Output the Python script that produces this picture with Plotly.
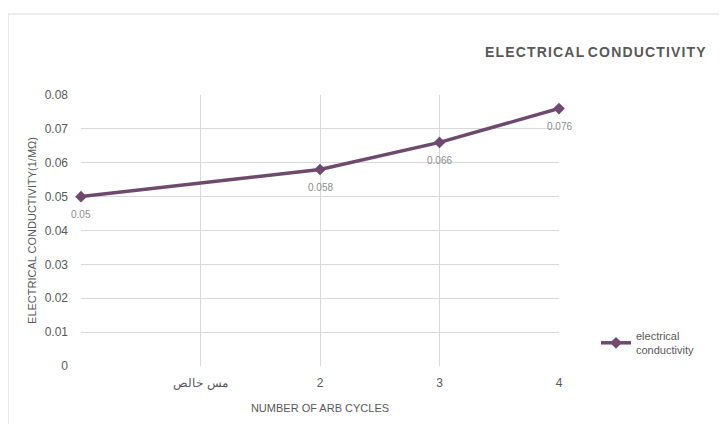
import plotly.graph_objects as go

x_vals = [0, 2, 3, 4]
conductivity = [0.05, 0.058, 0.066, 0.076]
point_labels = ["0.05", "0.058", "0.066", "0.076"]
tick_vals = [0, 1, 2, 3, 4]
tick_text = ["", "مس خالص", "2", "3", "4"]
y_ticks = [0, 0.01, 0.02, 0.03, 0.04, 0.05, 0.06, 0.07, 0.08]
y_tick_text = ["0", "0.01", "0.02", "0.03", "0.04", "0.05", "0.06", "0.07", "0.08"]

FONT = "Liberation Sans Narrow, Liberation Sans, Arial"
GREY = "#595959"
LINE = "#6e4a6f"

# page offset (body margin) compensation
OX, OY = 8, 8
PL, PR, PT, PB = 81, 559, 95, 366  # target plot area in window pixels
PW, PH = PR - PL, PB - PT

fig = go.Figure()
fig.add_trace(go.Scatter(
    x=x_vals, y=conductivity, mode="lines+markers",
    name="electrical<br>conductivity",
    line=dict(color=LINE, width=3.5),
    marker=dict(symbol="diamond", size=9, color=LINE),
    cliponaxis=False,
))

annotations = [dict(x=xv, y=yv, text=t, showarrow=False, yshift=-18,
                    xref="x", yref="y",
                    font=dict(family=FONT, size=10, color="#8c8c8c"))
               for xv, yv, t in zip(x_vals, conductivity, point_labels)]

title_txt = "\u200a".join(list("ELECTRICAL")) + " " + "\u200a".join(list("CONDUCTIVITY"))
annotations.append(dict(text="<b>" + title_txt + "</b>",
                        xref="paper", yref="paper", x=(708 - PL) / PW, y=(PB - 52) / PH,
                        xanchor="right", yanchor="middle", showarrow=False,
                        font=dict(family=FONT, size=14, color=GREY)))

fig.update_layout(
    width=727, height=424,
    margin=dict(l=PL - OX, r=727 + OX - PR, t=PT - OY, b=424 + OY - PB),
    paper_bgcolor="white", plot_bgcolor="white",
    font=dict(family=FONT, color=GREY, size=11),
    showlegend=True,
    legend=dict(x=(596 - PL) / PW, y=(PB - 364) / PH, xanchor="left", yanchor="bottom",
                font=dict(family=FONT, size=11, color=GREY),
                bgcolor="rgba(0,0,0,0)", itemwidth=30, tracegroupgap=0),
    xaxis=dict(range=[0, 4], tickvals=tick_vals, ticktext=tick_text,
               showgrid=True, gridcolor="#d9d9d9", gridwidth=1,
               zeroline=False, showline=False, ticks="",
               ticklabelstandoff=8,
               tickfont=dict(family=FONT, size=12, color=GREY),
               title=dict(text="NUMBER OF ARB CYCLES", standoff=15,
                          font=dict(family=FONT, size=11, color=GREY))),
    yaxis=dict(range=[0, 0.08], tickvals=y_ticks, ticktext=y_tick_text,
               showgrid=True, gridcolor="#d9d9d9", gridwidth=1,
               zeroline=False, showline=False, ticks="",
               ticklabelstandoff=12,
               tickfont=dict(family=FONT, size=12, color=GREY),
               title=dict(text="ELECTRICAL CONDUCTIVITY(1/MΩ)", standoff=5,
                          font=dict(family=FONT, size=11, color=GREY))),
    annotations=annotations,
    shapes=[dict(type="rect", xref="paper", yref="paper",
                 x0=(8 - PL) / PW, x1=(760 - PL) / PW,
                 y0=(PB - 460) / PH, y1=(PB - 14) / PH,
                 line=dict(color="#d9d9d9", width=1), layer="below")],
)

fig.write_html("out.html")
